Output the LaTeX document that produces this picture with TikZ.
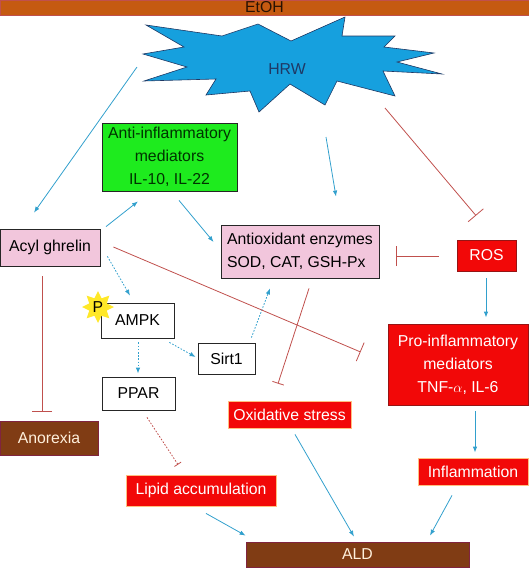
\documentclass[tikz,border=0pt]{standalone}
\usepackage{fontspec}
\setmainfont{Liberation Sans}
\usetikzlibrary{arrows.meta,shapes.geometric}
\definecolor{etohbar}{RGB}{197,90,17}
\definecolor{hrwblue}{RGB}{22,160,222}
\definecolor{navy}{RGB}{31,56,100}
\definecolor{antigreen}{RGB}{30,235,30}
\definecolor{pinkfill}{RGB}{242,198,220}
\definecolor{redfill}{RGB}{242,8,8}
\definecolor{redline}{RGB}{150,20,20}
\definecolor{brownfill}{RGB}{128,60,20}
\definecolor{cream}{RGB}{255,240,220}
\definecolor{arrowblue}{RGB}{50,160,205}
\definecolor{inhred}{RGB}{192,80,77}
\definecolor{staryellow}{RGB}{255,232,40}
\begin{document}
\begin{tikzpicture}[x=1pt,y=-1pt,
  box/.style={draw=black!85, line width=0.8pt, inner sep=0pt, font=\fontsize{15.8}{23}\selectfont},
  pinkbox/.style={box, fill=pinkfill},
  whitebox/.style={box, fill=white},
  redbox/.style={box, fill=redfill, draw=redline, text=white},
  brownbox/.style={box, fill=brownfill, draw=brownfill!60!violet, text=cream},
  act/.style={draw=arrowblue, line width=0.8pt, -{Latex[length=6pt,width=4.5pt]}},
  dotact/.style={act, dash pattern=on 1.6pt off 1.6pt},
  inh/.style={draw=inhred, line width=0.8pt, -{Bar[width=20pt]}},
]
\useasboundingbox (0,0) rectangle (529,576);
% top bar and the burst
\node[box, fill=etohbar, draw=inhred, text=black!80!etohbar, minimum width=529pt, minimum height=15pt] (etoh) at (264.5,7.5) {EtOH};
\filldraw[fill=hrwblue, draw=navy, line width=0.6pt] (146,25) -- (222,36) -- (258,24) -- (291,41) -- (345,17) -- (342,36)
  -- (395,36) -- (384,47) -- (434,53) -- (397,62) -- (442,74) -- (383,71) -- (395,96) -- (337,81) -- (325,105)
  -- (290,84) -- (259,112) -- (250,91) -- (206,95) -- (216,79) -- (144,81) -- (187,67) -- (143,54) -- (184,47) -- cycle;
\node[font=\fontsize{15.8}{23}\selectfont, text=navy] (hrw) at (287,69) {HRW};
% boxes
\node[box, fill=antigreen, text=black!80!green, align=center, minimum width=135pt, minimum height=68pt] (anti) at (169.5,157) {Anti-inflammatory\\mediators\\IL-10, IL-22};
\node[pinkbox, minimum width=100pt, minimum height=37pt] (acyl) at (50,247.5) {Acyl ghrelin};
\node[pinkbox, align=left, minimum width=158pt, minimum height=53pt] (antiox) at (300,251.5) {Antioxidant enzymes\\SOD, CAT, GSH-Px};
\node[redbox, minimum width=59pt, minimum height=31pt] (ros) at (486.5,255.5) {ROS};
\node[redbox, align=center, minimum width=140pt, minimum height=81pt] (pro) at (458,364.5) {Pro-inflammatory\\mediators\\TNF-$\alpha$, IL-6};
\node[whitebox, minimum width=73pt, minimum height=35pt] (ampk) at (137.5,320.5) {AMPK};
\node[star, star points=8, star point ratio=1.7, fill=staryellow, minimum size=32pt, inner sep=0pt, font=\fontsize{15.8}{18}\selectfont] (phos) at (98,307) {P};
\node[whitebox, minimum width=57pt, minimum height=31pt] (sirt) at (226.5,358.5) {Sirt1};
\node[whitebox, minimum width=73pt, minimum height=33pt] (ppar) at (138.5,393.5) {PPAR};
\node[brownbox, minimum width=98pt, minimum height=34pt] (anorexia) at (49,438) {Anorexia};
\node[redbox, draw=orange!50, minimum width=123pt, minimum height=27pt] (oxid) at (289.5,414.5) {Oxidative stress};
\node[redbox, draw=orange!50, minimum width=150pt, minimum height=31pt] (lipid) at (201,490.5) {Lipid accumulation};
\node[redbox, draw=orange!50, minimum width=110pt, minimum height=27pt] (infl) at (473,471.5) {Inflammation};
\node[brownbox, minimum width=223pt, minimum height=25pt] (ald) at (357.5,554.5) {ALD};
% activation
\path[act] ([shift={(-150,-2)}]hrw.center) -- ([shift={(-16,-16)}]acyl.north);
\path[act] ([shift={(56,-2)}]acyl.north) -- ([shift={(-31.5,10)}]anti.south);
\path[act] ([shift={(9.5,9)}]anti.south) -- ([shift={(-7,-9.5)}]antiox.west);
\path[act] ([shift={(39,68)}]hrw.center) -- ([shift={(36,-28)}]antiox.north);
\path[act] ([shift={(-0.5,7)}]ros.south) -- ([shift={(28,-6)}]pro.north);
\path[act] ([shift={(17,6)}]pro.south) -- ([shift={(2,-5)}]infl.north);
\path[act] ([shift={(5.5,6)}]oxid.south) -- ([shift={(-3.5,-5)}]ald.north);
\path[act] ([shift={(5,7)}]lipid.south) -- ([shift={(0,-6)}]ald.north west);
\path[act] ([shift={(-21,10)}]infl.south) -- ([shift={(72.5,-6)}]ald.north);
% dotted
\path[dotact] ([shift={(7,-10)}]acyl.south east) -- ([shift={(-7.5,-7)}]ampk.north);
\path[dotact] ([shift={(-5,4)}]ampk.south east) -- ([shift={(-2,-1.5)}]sirt.west);
\path[dotact] ([shift={(0.5,4)}]ampk.south) -- ([shift={(-0.5,-3)}]ppar.north);
\path[dotact] ([shift={(-4,-5)}]sirt.north east) -- ([shift={(-30,10)}]antiox.south);
% inhibition
\path[inh] ([shift={(98,39)}]hrw.center) -- ([shift={(-10.5,-24)}]ros.north);
\path[inh] ([shift={(-18,0.5)}]ros.west) -- ([shift={(17,4.5)}]antiox.east);
\path[inh] ([shift={(13,-0.5)}]acyl.east) -- ([shift={(-27,-12.5)}]pro.west);
\path[inh, -{Bar[width=12pt]}] ([shift={(9,10)}]antiox.south) -- ([shift={(-11.5,-17)}]oxid.north);
\path[inh] ([shift={(-8,10)}]acyl.south) -- ([shift={(-7,-9)}]anorexia.north);
\path[inh, -{Bar[width=8pt]}, dash pattern=on 1.6pt off 1.6pt] ([shift={(8.5,7)}]ppar.south) -- ([shift={(-23,-10)}]lipid.north);
\end{tikzpicture}
\end{document}
